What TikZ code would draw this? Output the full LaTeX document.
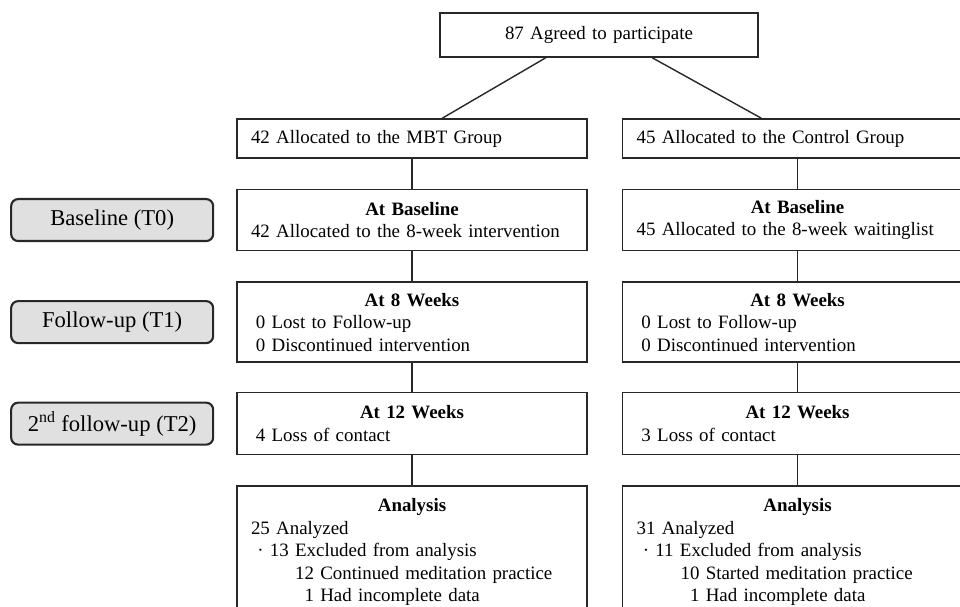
\documentclass[tikz,border=0pt]{standalone}
\usepackage{fontspec}
\setmainfont{Liberation Serif}
\usetikzlibrary{positioning,calc}
\definecolor{lineGray}{RGB}{40,40,40}
\definecolor{labelFill}{RGB}{224,224,224}
\newcommand{\boxtitle}[1]{\makebox[\hsize]{\textbf{#1}}}
\tikzset{
  flow box/.style={draw=lineGray,line width=1.1pt,align=left,text width=8.05cm,inner xsep=0.35cm,inner ysep=0.1cm,font=\fontsize{13.45}{16}\selectfont},
  phase label/.style={draw=lineGray,fill=labelFill,line width=1.5pt,rounded corners=5pt,align=center,minimum width=5.05cm,minimum height=1.05cm,font=\fontsize{16.1}{19}\selectfont},
  flow line/.style={draw=lineGray,line width=1pt}
}
\begin{document}
\begin{tikzpicture}[node distance=0.75cm and 0.85cm]
  \useasboundingbox (0,0) rectangle (24,-15.15);
  % enrolment and allocation
  \node[flow box,align=center,text width=7.25cm,minimum height=1.1cm] (agreed) at (14.975,-0.875) {87 Agreed to participate};
  \node[flow box,minimum height=0.975cm] (mbt) at (10.3,-3.4625) {42 Allocated to the MBT Group};
  \node[flow box,minimum height=0.975cm,right=of mbt] (ctrl) {45 Allocated to the Control Group};
  % MBT column
  \node[flow box,minimum height=1.525cm,below=of mbt] (mbtBase) {\boxtitle{At Baseline}\\42 Allocated to the 8-week intervention};
  \node[flow box,minimum height=2cm,below=of mbtBase] (mbtEight) {\boxtitle{At 8 Weeks}\\\hspace*{0.26em}0 Lost to Follow-up\\\hspace*{0.26em}0 Discontinued intervention};
  \node[flow box,minimum height=1.55cm,below=0.725cm of mbtEight] (mbtTwelve) {\boxtitle{At 12 Weeks}\\\hspace*{0.26em}4 Loss of contact};
  \node[flow box,minimum height=3.3cm,below=of mbtTwelve] (mbtAnalysis) {\boxtitle{Analysis}\\25 Analyzed\\\makebox[1em]{\textperiodcentered}13 Excluded from analysis\\\hspace*{2.33em}12 Continued meditation practice\\\hspace*{2.33em}\phantom{1}1 Had incomplete data};
  % control column
  \node[flow box,minimum height=1.525cm,below=of ctrl] (ctrlBase) {\boxtitle{At Baseline}\\45 Allocated to the 8-week waitinglist};
  \node[flow box,minimum height=2cm,below=of ctrlBase] (ctrlEight) {\boxtitle{At 8 Weeks}\\\hspace*{0.26em}0 Lost to Follow-up\\\hspace*{0.26em}0 Discontinued intervention};
  \node[flow box,minimum height=1.55cm,below=0.725cm of ctrlEight] (ctrlTwelve) {\boxtitle{At 12 Weeks}\\\hspace*{0.26em}3 Loss of contact};
  \node[flow box,minimum height=3.3cm,below=of ctrlTwelve] (ctrlAnalysis) {\boxtitle{Analysis}\\31 Analyzed\\\makebox[1em]{\textperiodcentered}11 Excluded from analysis\\\hspace*{2.33em}10 Started meditation practice\\\hspace*{2.33em}\phantom{1}1 Had incomplete data};
  % phase labels
  \node[phase label,left=0.55cm of mbtBase] (baseLabel) {Baseline (T0)};
  \node[phase label,left=0.55cm of mbtEight] (followLabel) {Follow-up (T1)};
  \node[phase label,left=0.55cm of mbtTwelve] (secondLabel) {2\textsuperscript{nd} follow-up (T2)};
  % connectors
  \draw[flow line] ($(agreed.south west)!1/3!(agreed.south east)$) -- ($(mbt.north west)!0.586!(mbt.north east)$);
  \draw[flow line] ($(agreed.south west)!2/3!(agreed.south east)$) -- ($(ctrl.north west)!0.397!(ctrl.north east)$);
  \draw[flow line] (mbt) -- (mbtBase) (mbtBase) -- (mbtEight) (mbtEight) -- (mbtTwelve) (mbtTwelve) -- (mbtAnalysis);
  \draw[flow line] (ctrl) -- (ctrlBase) (ctrlBase) -- (ctrlEight) (ctrlEight) -- (ctrlTwelve) (ctrlTwelve) -- (ctrlAnalysis);
\end{tikzpicture}
\end{document}
